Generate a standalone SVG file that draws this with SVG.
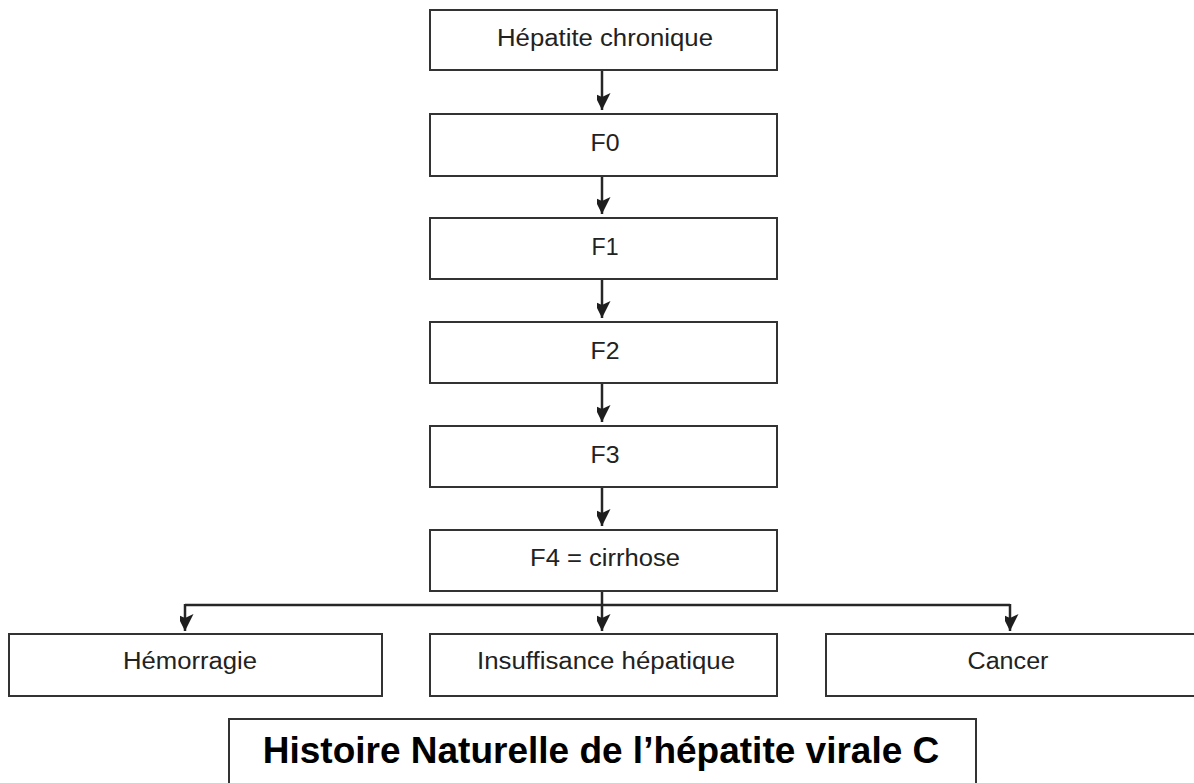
<svg xmlns="http://www.w3.org/2000/svg" width="1194" height="783" viewBox="0 0 1194 783">
  <style>
    .box { fill: #ffffff; stroke: #333333; stroke-width: 2; }
    .lbl { font-family: "Liberation Sans", Arial, sans-serif; font-size: 23.5px; fill: #222222; text-anchor: middle; }
    .title { font-family: "Liberation Sans", Arial, sans-serif; font-size: 37px; font-weight: bold; fill: #000000; text-anchor: middle; }
    .wire { fill: none; stroke: #262626; stroke-width: 2.5; }
  </style>
  <defs>
    <marker id="arrow" markerUnits="userSpaceOnUse" markerWidth="18" markerHeight="14" refX="17" refY="8.5" orient="auto">
      <path d="M0,0 L17,8.5 L0,17 L4,8.5 Z" fill="#1e1e1e"/>
    </marker>
  </defs>
  <rect width="1194" height="783" fill="#ffffff"/>

  <g id="connectors">
    <line class="wire" x1="602" y1="70" x2="602" y2="110" marker-end="url(#arrow)"/>
    <line class="wire" x1="602" y1="176" x2="602" y2="214" marker-end="url(#arrow)"/>
    <line class="wire" x1="602" y1="279" x2="602" y2="318" marker-end="url(#arrow)"/>
    <line class="wire" x1="602" y1="383" x2="602" y2="422" marker-end="url(#arrow)"/>
    <line class="wire" x1="602" y1="487" x2="602" y2="526" marker-end="url(#arrow)"/>
    <line class="wire" x1="602" y1="591" x2="602" y2="631" marker-end="url(#arrow)"/>
    <polyline class="wire" points="185,605 1010,605"/>
    <line class="wire" x1="185" y1="604" x2="185" y2="631" marker-end="url(#arrow)"/>
    <line class="wire" x1="1010" y1="604" x2="1010" y2="631" marker-end="url(#arrow)"/>
  </g>

  <g id="hepatite-chronique">
    <rect class="box" x="430" y="10" width="347" height="60"/>
    <text class="lbl" x="605" y="46" textLength="216" lengthAdjust="spacingAndGlyphs">Hépatite chronique</text>
  </g>
  <g id="f0">
    <rect class="box" x="430" y="114" width="347" height="62"/>
    <text class="lbl" x="605" y="151" textLength="29" lengthAdjust="spacingAndGlyphs">F0</text>
  </g>
  <g id="f1">
    <rect class="box" x="430" y="218" width="347" height="61"/>
    <text class="lbl" x="605" y="255" textLength="27" lengthAdjust="spacingAndGlyphs">F1</text>
  </g>
  <g id="f2">
    <rect class="box" x="430" y="322" width="347" height="61"/>
    <text class="lbl" x="605" y="359" textLength="29" lengthAdjust="spacingAndGlyphs">F2</text>
  </g>
  <g id="f3">
    <rect class="box" x="430" y="426" width="347" height="61"/>
    <text class="lbl" x="605" y="463" textLength="29" lengthAdjust="spacingAndGlyphs">F3</text>
  </g>
  <g id="f4-cirrhose">
    <rect class="box" x="430" y="530" width="347" height="61"/>
    <text class="lbl" x="605" y="566" textLength="150" lengthAdjust="spacingAndGlyphs">F4 = cirrhose</text>
  </g>

  <g id="hemorragie">
    <rect class="box" x="9" y="634" width="373" height="62"/>
    <text class="lbl" x="190" y="669" textLength="134" lengthAdjust="spacingAndGlyphs">Hémorragie</text>
  </g>
  <g id="insuffisance-hepatique">
    <rect class="box" x="430" y="634" width="347" height="62"/>
    <text class="lbl" x="606" y="669" textLength="258" lengthAdjust="spacingAndGlyphs">Insuffisance hépatique</text>
  </g>
  <g id="cancer">
    <rect class="box" x="826" y="634" width="373" height="62"/>
    <text class="lbl" x="1008" y="669" textLength="81" lengthAdjust="spacingAndGlyphs">Cancer</text>
  </g>

  <g id="title">
    <rect class="box" x="229" y="719" width="747" height="80"/>
    <text class="title" x="601" y="763">Histoire Naturelle de l’hépatite virale C</text>
  </g>
</svg>
